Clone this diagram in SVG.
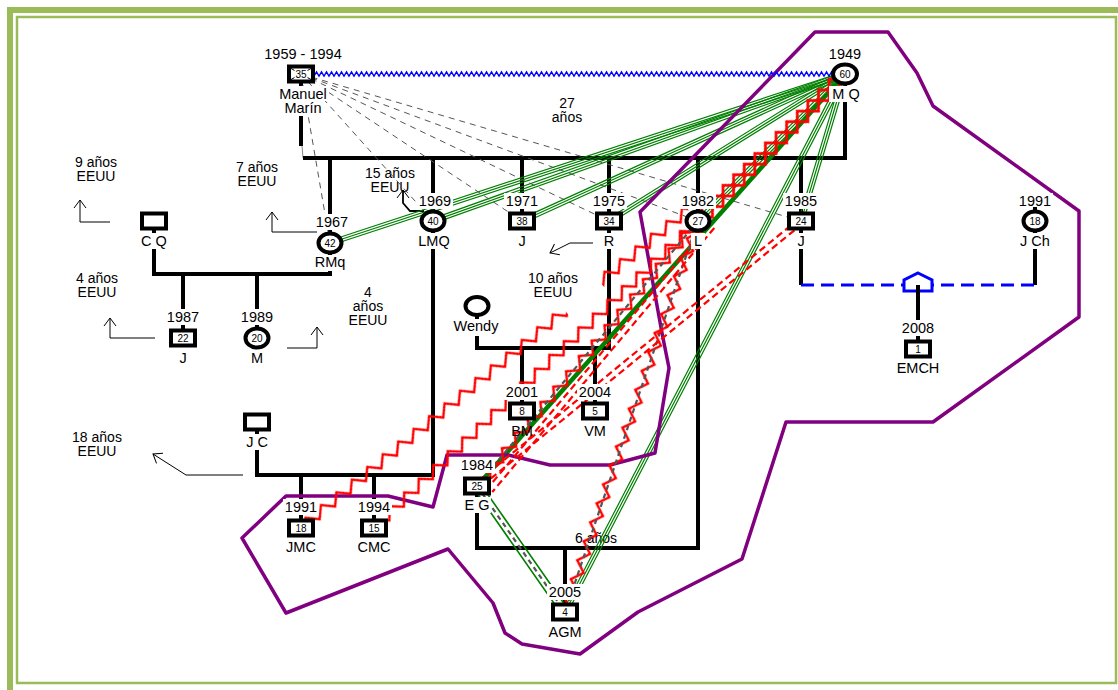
<svg xmlns="http://www.w3.org/2000/svg" width="1118" height="690" viewBox="0 0 1118 690">
<style>
.t{font-family:"Liberation Sans",Arial,sans-serif;font-size:14.5px;fill:#000;text-anchor:middle}
.m{font-family:"Liberation Sans",Arial,sans-serif;font-size:14px;fill:#000;text-anchor:middle}
.n{font-family:"Liberation Sans",Arial,sans-serif;font-size:10px;fill:#000;text-anchor:middle}
.bg{fill:#fff}
.sq{fill:#fff;stroke:#000;stroke-width:4}
.ci{fill:#fff;stroke:#000;stroke-width:4}
.fl{fill:none;stroke:#000;stroke-width:4}
.gd{fill:none;stroke:#555;stroke-width:1;stroke-dasharray:6 5}
.tri{fill:none;stroke:#008000;stroke-width:1.2}
.tg{stroke:#008000;stroke-width:4.5}
.dd{fill:none;stroke:#f00;stroke-width:2.2;stroke-dasharray:7 4}
.gc{fill:none;stroke:#555;stroke-width:2.2;stroke-dasharray:5 4}
.gp{fill:none;stroke:#008000;stroke-width:1.6}
.pu{fill:none;stroke:#800080;stroke-width:3.5;stroke-linejoin:round}
.ar{fill:none;stroke:#000;stroke-width:1;marker-end:url(#ah)}
.fr{fill:none;stroke:#9bbb59}
</style>
<defs>
<marker id="ah" markerUnits="userSpaceOnUse" markerWidth="14" markerHeight="14" viewBox="0 0 14 14" refX="9" refY="7" orient="auto"><path d="M1,1 L9,7 L1,13" fill="none" stroke="#000" stroke-width="1"/></marker>
<pattern id="zr" patternUnits="userSpaceOnUse" x="0" y="-8" width="20" height="16"><polyline points="-10,3 0,13 10,3 20,13 30,3" fill="none" stroke="#f00" stroke-width="2.3"/></pattern>
<pattern id="zh" patternUnits="userSpaceOnUse" x="0" y="-11" width="30" height="22"><polyline points="-15,3.5 0,18.5 15,3.5 30,18.5 45,3.5" fill="none" stroke="#f00" stroke-width="2.8"/><polyline points="-15,18.5 0,3.5 15,18.5 30,3.5 45,18.5" fill="none" stroke="#f00" stroke-width="2.8"/></pattern>
<pattern id="zb" patternUnits="userSpaceOnUse" x="0" y="-4" width="5" height="8"><polyline points="-2.5,1.8 0,6.2 2.5,1.8 5,6.2 7.5,1.8" fill="none" stroke="#00f" stroke-width="1.4"/></pattern>
</defs>
<rect width="1118" height="690" fill="#fff"/>
<rect class="fr" x="10" y="10" width="1116" height="686" stroke-width="6"/>
<rect class="fr" x="17" y="17" width="1099" height="666" stroke-width="2.5"/>

<g id="notes">
<text class="m" x="567" y="108">27</text><text class="m" x="567" y="122">años</text>
<text class="m" x="96" y="167">9 años</text><text class="m" x="96" y="181">EEUU</text>
<text class="m" x="257" y="172">7 años</text><text class="m" x="257" y="186">EEUU</text>
<text class="m" x="390" y="178">15 años</text><text class="m" x="390" y="192">EEUU</text>
<text class="m" x="97" y="283">4 años</text><text class="m" x="97" y="297">EEUU</text>
<text class="m" x="368" y="297">4</text><text class="m" x="368" y="311">años</text><text class="m" x="368" y="325">EEUU</text>
<text class="m" x="553" y="283">10 años</text><text class="m" x="553" y="297">EEUU</text>
<text class="m" x="97" y="442">18 años</text><text class="m" x="97" y="456">EEUU</text>
<text class="m" x="596" y="543">6 años</text>
<polyline class="ar" points="110,222 80,222 80,200"/>
<polyline class="ar" points="317,232 272,232 272,212"/>
<polyline class="ar" points="155,338 110,338 110,318"/>
<polyline class="ar" points="287,348 317,348 317,327"/>
<polyline class="ar" points="243,475 186,475 153,454"/>
<polyline class="ar" points="593,243 570,243 550,253"/>
<polyline class="ar" style="stroke-width:1.8" points="424,211 410,211 403,203 403,190"/>
</g>

<g id="connectors">
<g id="family">
<line class="fl" x1="301" y1="74" x2="301" y2="146"/>
<line stroke="#888" stroke-width="1" x1="302" y1="146" x2="303" y2="158"/>
<polyline class="fl" points="303,158 845,158 845,74"/>
<line class="fl" x1="330" y1="158" x2="330" y2="243"/>
<line class="fl" x1="433" y1="158" x2="433" y2="221"/>
<line class="fl" x1="522" y1="158" x2="522" y2="221"/>
<line class="fl" x1="609" y1="158" x2="609" y2="221"/>
<line class="fl" x1="698" y1="158" x2="698" y2="221"/>
<line class="fl" x1="801" y1="158" x2="801" y2="285"/>
<polyline class="fl" points="154,221 154,274 330,274 330,243"/>
<line class="fl" x1="183" y1="274" x2="183" y2="338"/>
<line class="fl" x1="257" y1="274" x2="257" y2="338"/>
<polyline class="fl" points="257,422 257,475 433,475 433,221"/>
<line class="fl" x1="301" y1="475" x2="301" y2="528"/>
<line class="fl" x1="374" y1="475" x2="374" y2="528"/>
<polyline class="fl" points="477,306 477,348 609,348 609,221"/>
<line class="fl" x1="522" y1="348" x2="522" y2="411"/>
<line class="fl" x1="595" y1="348" x2="595" y2="411"/>
<polyline class="fl" points="477,486 477,548 698,548 698,221"/>
<line class="fl" x1="565" y1="548" x2="565" y2="612"/>
<line class="fl" x1="1035" y1="206" x2="1035" y2="285"/>
</g>
<g id="rel-distant">
<path class="gd" d="M301 74L330 243M301 74L433 221M301 74L522 221M301 74L609 221M301 74L698 221M301 74L801 221"/>
</g>
<g id="rel-close" class="tri">
<path transform="translate(845 74) rotate(161.83)" d="M0-2.4H542M0 0H542M0 2.4H542"/>
<path transform="translate(845 74) rotate(160.36)" d="M0-2.4H437M0 0H437M0 2.4H437"/>
<path transform="translate(845 74) rotate(155.53)" d="M0-2.4H355M0 0H355M0 2.4H355"/>
<path transform="translate(845 74) rotate(148.08)" d="M0-2.4H278M0 0H278M0 2.4H278"/>
<path transform="translate(845 74) rotate(135)" d="M0-2.4H208M0 0H208M0 2.4H208"/>
<path transform="translate(845 74) rotate(106.66)" d="M0-2.4H153M0 0H153M0 2.4H153"/>
<path transform="translate(845 74) rotate(117.49)" d="M0-2.4H606M0 0H606M0 2.4H606"/>
</g>
<line id="rel-fused" class="tg" x1="845" y1="74" x2="477" y2="486"/>
<polygon id="household" class="pu" points="815,32 888,32 917,73 933,106 1079,211 1079,317 933,422 786,422 742,559 638,612 580,654 522,644 505,633 493,603 448,549 286,613 242,538 286,496 388,496 433,507 447,455 508,455 550,465 610,465 655,453 669,368 662,333 640,212"/>
<g id="rel-conflict">
<g transform="translate(845 74) rotate(135)"><rect y="-11" width="210" height="22" fill="url(#zh)"/></g>
<g transform="translate(698 221) rotate(136.54)"><rect y="-8" width="446" height="16" fill="url(#zr)"/></g>
<g transform="translate(301 528) rotate(-39.42)"><rect y="-8" width="342" height="16" fill="url(#zr)"/></g>
<g transform="translate(600 282) rotate(-39.29)"><rect y="-8" width="114" height="16" fill="url(#zr)"/></g>
<g transform="translate(698 221) rotate(129.83)"><rect y="-8" width="345" height="16" fill="url(#zr)"/><path class="gc" d="M0 0H345"/></g>
<g transform="translate(698 221) rotate(108.79)"><rect y="-8" width="413" height="16" fill="url(#zr)"/><path class="gc" d="M0 0H413"/></g>
<path class="dd" transform="translate(801 221) rotate(140.72)" d="M0-3H419M0 3H419"/>
<path class="dd" transform="translate(712 226) rotate(130.06)" d="M0-3H345M0 3H345"/>
</g>
<g id="rel-eg-agm" transform="translate(477 486) rotate(55.07)">
<path class="gp" d="M0-4H154M0 4H154"/><path class="gc" d="M0 0H154"/>
</g>
<g id="rel-manuel-mq" transform="translate(314 74)"><rect y="-4" width="518" height="8" fill="url(#zb)"/></g>
<g id="rel-j-jch">
<line x1="801" y1="285" x2="1035" y2="285" stroke="#00f" stroke-width="3" stroke-dasharray="13 7"/>
<polygon points="918,273 932,280 932,291 904,291 904,280" fill="#fff" stroke="#00f" stroke-width="3"/>
<line class="fl" x1="918" y1="285" x2="918" y2="349"/>
</g>
</g>

<g id="n-manuel">
<rect class="sq" x="289" y="66.5" width="24" height="15"/>
<path d="M291 68.5L311 79.5M311 68.5L291 79.5" stroke="#000" stroke-width="1"/>
<rect class="bg" x="294.5" y="69.5" width="13" height="9"/>
<text class="n" x="301" y="77.5">35</text>
<rect class="bg" x="261" y="46" width="84" height="16"/><text class="t" x="303" y="59">1959 - 1994</text>
<rect class="bg" x="277" y="86" width="52" height="15"/><text class="t" x="303" y="99">Manuel</text>
<rect class="bg" x="283" y="101" width="40" height="15"/><text class="t" x="303" y="113">Marín</text>
</g>
<g id="n-mq">
<ellipse class="ci" cx="845" cy="74" rx="12" ry="9.5"/><text class="n" x="845" y="77.5">60</text>
<rect class="bg" x="827" y="46" width="36" height="16"/><text class="t" x="845" y="59">1949</text>
<rect class="bg" x="829" y="86" width="34" height="16"/><text class="t" x="846" y="99">M Q</text>
</g>
<g id="n-rmq">
<ellipse class="ci" cx="330" cy="243" rx="11.5" ry="9.5"/><text class="n" x="330" y="246.5">42</text>
<rect class="bg" x="314" y="214" width="36" height="16"/><text class="t" x="332" y="227">1967</text>
<rect class="bg" x="313" y="255" width="34" height="16"/><text class="t" x="330" y="267">RMq</text>
</g>
<g id="n-lmq">
<ellipse class="ci" cx="433" cy="221" rx="11.5" ry="9.5"/><text class="n" x="433" y="224.5">40</text>
<rect class="bg" x="417" y="193" width="36" height="16"/><text class="t" x="435" y="206">1969</text>
<rect class="bg" x="416" y="233" width="36" height="16"/><text class="t" x="434" y="246">LMQ</text>
</g>
<g id="n-j1971">
<rect class="sq" x="510" y="213.5" width="24" height="15"/><text class="n" x="522" y="224.5">38</text>
<rect class="bg" x="504" y="193" width="36" height="16"/><text class="t" x="522" y="206">1971</text>
<rect class="bg" x="515" y="233" width="14" height="16"/><text class="t" x="522" y="246">J</text>
</g>
<g id="n-r">
<rect class="sq" x="597" y="213.5" width="24" height="15"/><text class="n" x="609" y="224.5">34</text>
<rect class="bg" x="591" y="193" width="36" height="16"/><text class="t" x="609" y="206">1975</text>
<rect class="bg" x="601" y="233" width="16" height="16"/><text class="t" x="609" y="246">R</text>
</g>
<g id="n-l">
<ellipse class="ci" cx="698" cy="221" rx="11.5" ry="9.5"/><text class="n" x="698" y="224.5">27</text>
<rect class="bg" x="680" y="193" width="36" height="16"/><text class="t" x="698" y="206">1982</text>
<rect class="bg" x="691" y="233" width="14" height="16"/><text class="t" x="698" y="246">L</text>
</g>
<g id="n-j1985">
<rect class="sq" x="789" y="213.5" width="24" height="15"/><text class="n" x="801" y="224.5">24</text>
<rect class="bg" x="783" y="193" width="36" height="16"/><text class="t" x="801" y="206">1985</text>
<rect class="bg" x="794" y="233" width="14" height="16"/><text class="t" x="801" y="246">J</text>
</g>
<g id="n-jch">
<ellipse class="ci" cx="1035" cy="221" rx="11.5" ry="9.5"/><text class="n" x="1035" y="224.5">18</text>
<rect class="bg" x="1017" y="193" width="36" height="14"/><text class="t" x="1035" y="206">1991</text>
<rect class="bg" x="1018" y="233" width="34" height="16"/><text class="t" x="1035" y="246">J Ch</text>
</g>
<g id="n-cq">
<rect class="sq" x="142" y="213.5" width="24" height="15"/>
<rect class="bg" x="140" y="233" width="28" height="16"/><text class="t" x="154" y="246">C Q</text>
</g>
<g id="n-j1987">
<rect class="sq" x="171" y="330.5" width="24" height="15"/><text class="n" x="183" y="341.5">22</text>
<rect class="bg" x="165" y="309" width="36" height="16"/><text class="t" x="183" y="322">1987</text>
<text class="t" x="183" y="363">J</text>
</g>
<g id="n-m1989">
<ellipse class="ci" cx="257" cy="338" rx="11.5" ry="9.5"/><text class="n" x="257" y="341.5">20</text>
<rect class="bg" x="239" y="309" width="36" height="16"/><text class="t" x="257" y="322">1989</text>
<text class="t" x="257" y="363">M</text>
</g>
<g id="n-wendy">
<ellipse class="ci" cx="477" cy="306" rx="11.5" ry="9"/>
<rect class="bg" x="452" y="319" width="50" height="17"/><text class="t" x="476" y="331">Wendy</text>
</g>
<g id="n-bm">
<rect class="sq" x="510" y="403.5" width="24" height="15"/><text class="n" x="522" y="414.5">8</text>
<rect class="bg" x="504" y="384" width="36" height="16"/><text class="t" x="522" y="397">2001</text>
<text class="t" x="522" y="436">BM</text>
</g>
<g id="n-vm">
<rect class="sq" x="583" y="403.5" width="24" height="15"/><text class="n" x="595" y="414.5">5</text>
<rect class="bg" x="577" y="384" width="36" height="16"/><text class="t" x="595" y="397">2004</text>
<text class="t" x="595" y="436">VM</text>
</g>
<g id="n-emch">
<rect class="sq" x="906" y="341.5" width="24" height="15"/><text class="n" x="918" y="352.5">1</text>
<rect class="bg" x="900" y="320" width="36" height="16"/><text class="t" x="918" y="333">2008</text>
<text class="t" x="918" y="373">EMCH</text>
</g>
<g id="n-jc">
<rect class="sq" x="245" y="414.5" width="24" height="15"/>
<rect class="bg" x="244" y="434" width="26" height="16"/><text class="t" x="257" y="447">J C</text>
</g>
<g id="n-jmc">
<rect class="sq" x="289" y="520.5" width="24" height="15"/><text class="n" x="301" y="531.5">18</text>
<rect class="bg" x="283" y="499" width="36" height="16"/><text class="t" x="301" y="512">1991</text>
<text class="t" x="301" y="552">JMC</text>
</g>
<g id="n-cmc">
<rect class="sq" x="362" y="520.5" width="24" height="15"/><text class="n" x="374" y="531.5">15</text>
<rect class="bg" x="356" y="499" width="36" height="16"/><text class="t" x="374" y="512">1994</text>
<text class="t" x="374" y="552">CMC</text>
</g>
<g id="n-eg">
<rect class="sq" x="465" y="478.5" width="24" height="15"/><text class="n" x="477" y="489.5">25</text>
<rect class="bg" x="459" y="457" width="36" height="16"/><text class="t" x="477" y="470">1984</text>
<rect class="bg" x="463" y="497" width="28" height="16"/><text class="t" x="477" y="510">E G</text>
</g>
<g id="n-agm">
<rect class="sq" x="553" y="604.5" width="24" height="15"/><text class="n" x="565" y="615.5">4</text>
<rect class="bg" x="547" y="584" width="36" height="16"/><text class="t" x="565" y="597">2005</text>
<text class="t" x="565" y="637">AGM</text>
</g>
</svg>
